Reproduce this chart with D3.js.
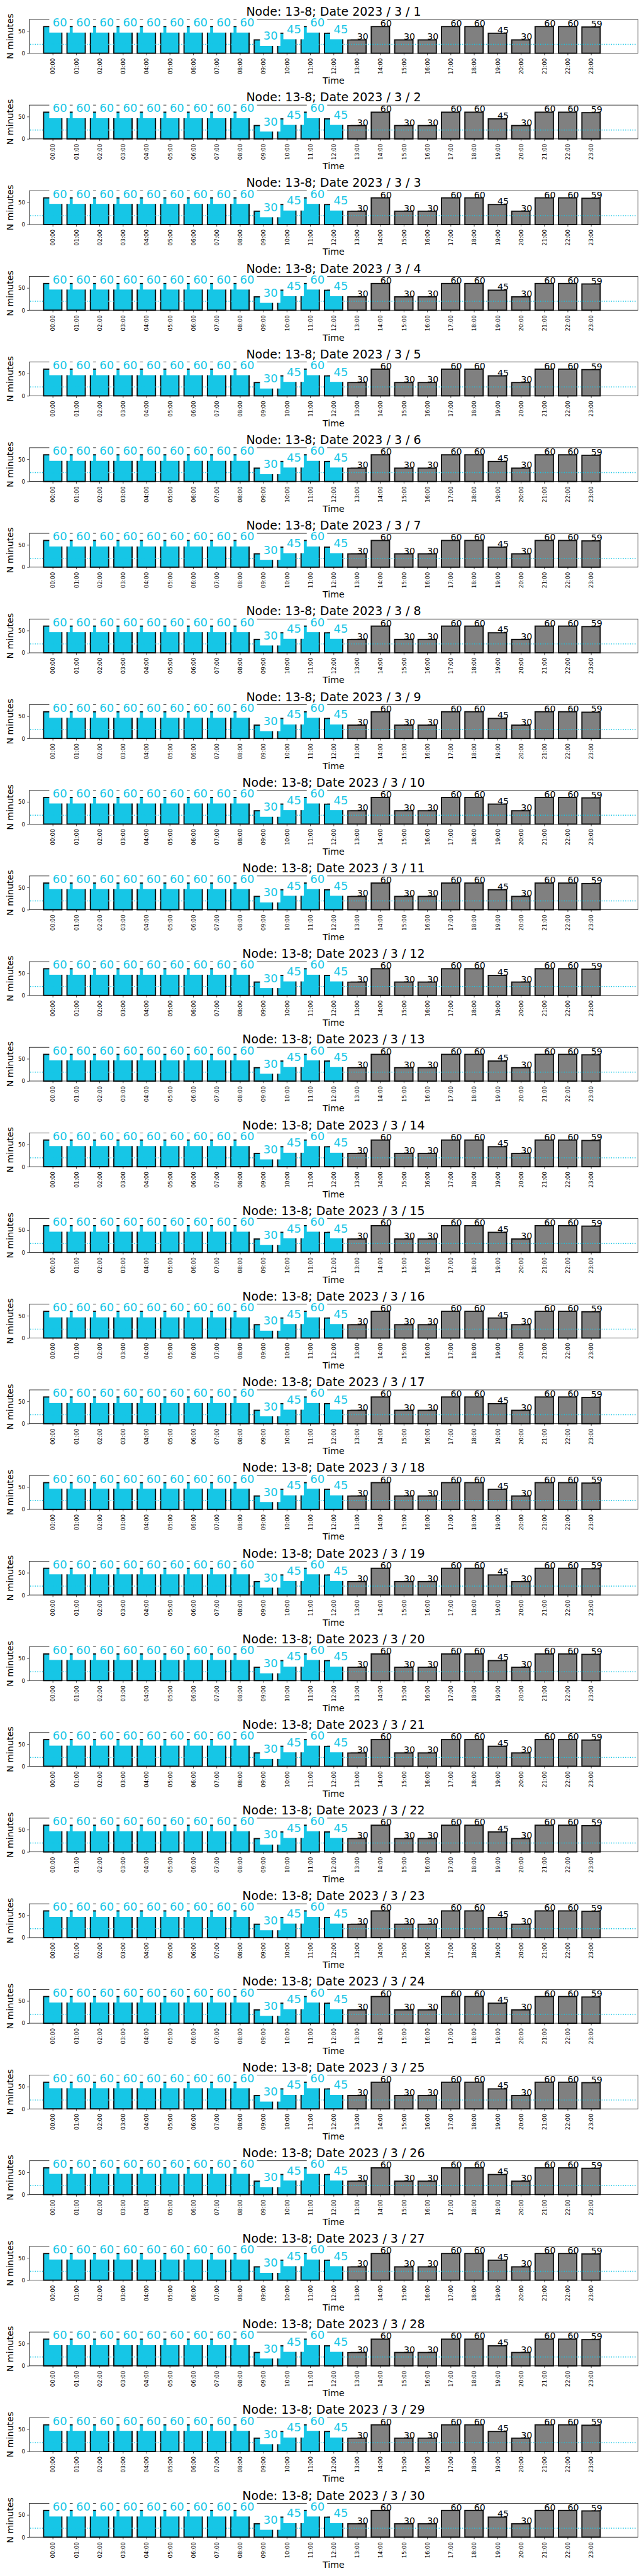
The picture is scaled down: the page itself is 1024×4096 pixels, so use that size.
<!DOCTYPE html>
<html><head><meta charset="utf-8">
<script src="https://cdn.jsdelivr.net/npm/d3@7"></script>
<style>body{margin:0;background:#fff} svg{display:block}</style>
</head><body>
<svg id="c" width="1024" height="4096"></svg>
<script>
// ---- data ----
const nodeName = "13-8";
const year = 2023, month = 3;
const days = [1,2,3,4,5,6,7,8,9,10,11,12,13,14,15,16,17,18,19,20,21,22,23,24,25,26,27,28,29,30];
const hours = ["00:00","01:00","02:00","03:00","04:00","05:00","06:00","07:00","08:00","09:00","10:00","11:00",
               "12:00","13:00","14:00","15:00","16:00","17:00","18:00","19:00","20:00","21:00","22:00","23:00"];
const minutes = [60,60,60,60,60,60,60,60,60,30,45,60,45,30,60,30,30,60,60,45,30,60,60,59];
const highlightedHours = ["00:00","01:00","02:00","03:00","04:00","05:00","06:00","07:00","08:00","09:00","10:00","11:00","12:00"];
const threshold = 20;
const yTicks = [0, 50];
const yMax = 76;

// ---- layout (reference px, scaled to window) ----
const S = 1024 / 1500;
const FONT = "DejaVu Sans, Verdana, sans-serif";
const CYAN = "#16c6e6", GRAY = "#808080";
const L = 68.3, R = 1485.7, T0 = 45.3, H = 78.7, STEP = 199.5;

const svg = d3.select("#c");
const root = svg.append("g").attr("transform", `scale(${S})`);

const x = d3.scaleLinear().domain([-1, 25]).range([L, R]);
const y = d3.scaleLinear().domain([0, yMax]).range([H, 0]);
const barW = x(0.78) - x(0);
const rows = hours.map((h, j) => ({hour: h, v: minutes[j], hi: highlightedHours.includes(h), j}));

days.forEach((day, i) => {
  const g = root.append("g").attr("transform", `translate(0,${T0 + i * STEP})`);

  // bars
  g.selectAll("rect.bar").data(rows).join("rect").attr("class", "bar")
    .attr("x", d => x(d.j) - barW / 2).attr("width", barW)
    .attr("y", d => y(d.v)).attr("height", d => H - y(d.v))
    .attr("fill", d => d.hi ? CYAN : GRAY)
    .attr("stroke", "#111").attr("stroke-width", 2.8);

  // threshold line
  g.append("line").attr("x1", L + 2).attr("x2", R - 2)
    .attr("y1", y(threshold)).attr("y2", y(threshold))
    .attr("stroke", CYAN).attr("stroke-width", 2.1).attr("stroke-dasharray", "2.1 3.4");

  // spines
  g.append("rect").attr("x", L).attr("y", 0).attr("width", R - L).attr("height", H)
    .attr("fill", "none").attr("stroke", "#000").attr("stroke-width", 1.1);

  // x axis
  const xa = g.append("g").attr("transform", `translate(0,${H})`)
    .call(d3.axisBottom(x).tickValues(rows.map(d => d.j)).tickFormat(j => hours[j]).tickSize(4.9).tickPadding(4.9));
  xa.select(".domain").remove();
  xa.selectAll("line").attr("stroke", "#000").attr("stroke-width", 1.1);
  xa.selectAll("text").attr("font-family", FONT).attr("font-size", 13).attr("fill", "#000")
    .attr("transform", "rotate(-90)").attr("text-anchor", "end")
    .attr("x", -11.5).attr("y", 4.8).attr("dy", null);

  // y axis
  const ya = g.append("g").attr("transform", `translate(${L},0)`)
    .call(d3.axisLeft(y).tickValues(yTicks).tickSize(4.9).tickPadding(4.9));
  ya.select(".domain").remove();
  ya.selectAll("line").attr("stroke", "#000").attr("stroke-width", 1.1);
  ya.selectAll("text").attr("font-family", FONT).attr("font-size", 12.5).attr("fill", "#000").attr("dy", "0.36em");

  // value labels
  rows.forEach(d => {
    if (d.hi) {
      const t = g.append("text").attr("x", x(d.j)).attr("y", y(d.v))
        .attr("font-family", FONT).attr("font-size", 26.4).attr("fill", CYAN).text(d.v);
      const w = t.node().getComputedTextLength();
      g.insert("rect", () => t.node())
        .attr("x", x(d.j) - 8).attr("y", y(d.v) - 28)
        .attr("width", w + 14).attr("height", 42).attr("fill", "#fff");
    } else {
      g.append("text").attr("x", x(d.j)).attr("y", y(d.v))
        .attr("font-family", FONT).attr("font-size", 20.8).attr("fill", "#000").text(d.v);
    }
  });

  // title and axis labels
  g.append("text").attr("x", (L + R) / 2).attr("y", -8.6).attr("text-anchor", "middle")
    .attr("font-family", FONT).attr("font-size", 27.8).attr("fill", "#000")
    .text(`Node: ${nodeName}; Date ${year} / ${month} / ${day}`);
  g.append("text").attr("transform", `translate(30.5,${H / 2}) rotate(-90)`).attr("text-anchor", "middle")
    .attr("font-family", FONT).attr("font-size", 20.8).attr("fill", "#000").text("N minutes");
  g.append("text").attr("x", (L + R) / 2).attr("y", 149.7).attr("text-anchor", "middle")
    .attr("font-family", FONT).attr("font-size", 20.8).attr("fill", "#000").text("Time");
});
</script>
</body></html>
